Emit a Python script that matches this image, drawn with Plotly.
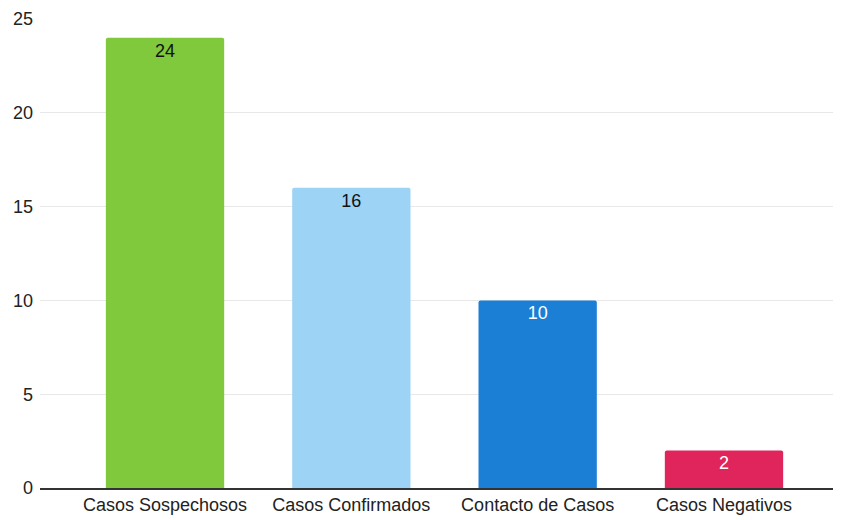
import plotly.graph_objects as go

categories = ["Casos Sospechosos", "Casos Confirmados", "Contacto de Casos", "Casos Negativos"]
values = [24, 16, 10, 2]
colors = ["#80c83c", "#9dd3f4", "#1b7fd6", "#e0245c"]
text_colors = ["#111111", "#111111", "#ffffff", "#ffffff"]
y_ticks = [0, 5, 10, 15, 20, 25]

fig = go.Figure(go.Bar(
    x=categories, y=values,
    marker=dict(color=colors, line=dict(width=0), cornerradius=2),
    width=0.635,
    text=[str(v) for v in values],
    textposition="inside", insidetextanchor="end",
    textfont=dict(color=text_colors, size=18, family="Liberation Sans, Arial"),
    textangle=0,
))

fig.update_layout(
    width=833, height=512,
    margin=dict(l=32, r=0, t=10, b=32),
    plot_bgcolor="white", paper_bgcolor="white",
    showlegend=False,
    font=dict(family="Liberation Sans, Arial", size=18, color="#222222"),
    xaxis=dict(range=[-0.671, 3.628], showgrid=False, showline=True,
               linecolor="#333333", linewidth=1.5, ticks="", tickfont=dict(size=18, color="#222222")),
    yaxis=dict(range=[0, 25.05], tickvals=y_ticks, showgrid=True, gridcolor="#e8e8e8",
               zeroline=False, showline=False, ticks="", ticklabelstandoff=6,
               tickfont=dict(size=18, color="#222222")),
)

fig.write_html("out.html")
